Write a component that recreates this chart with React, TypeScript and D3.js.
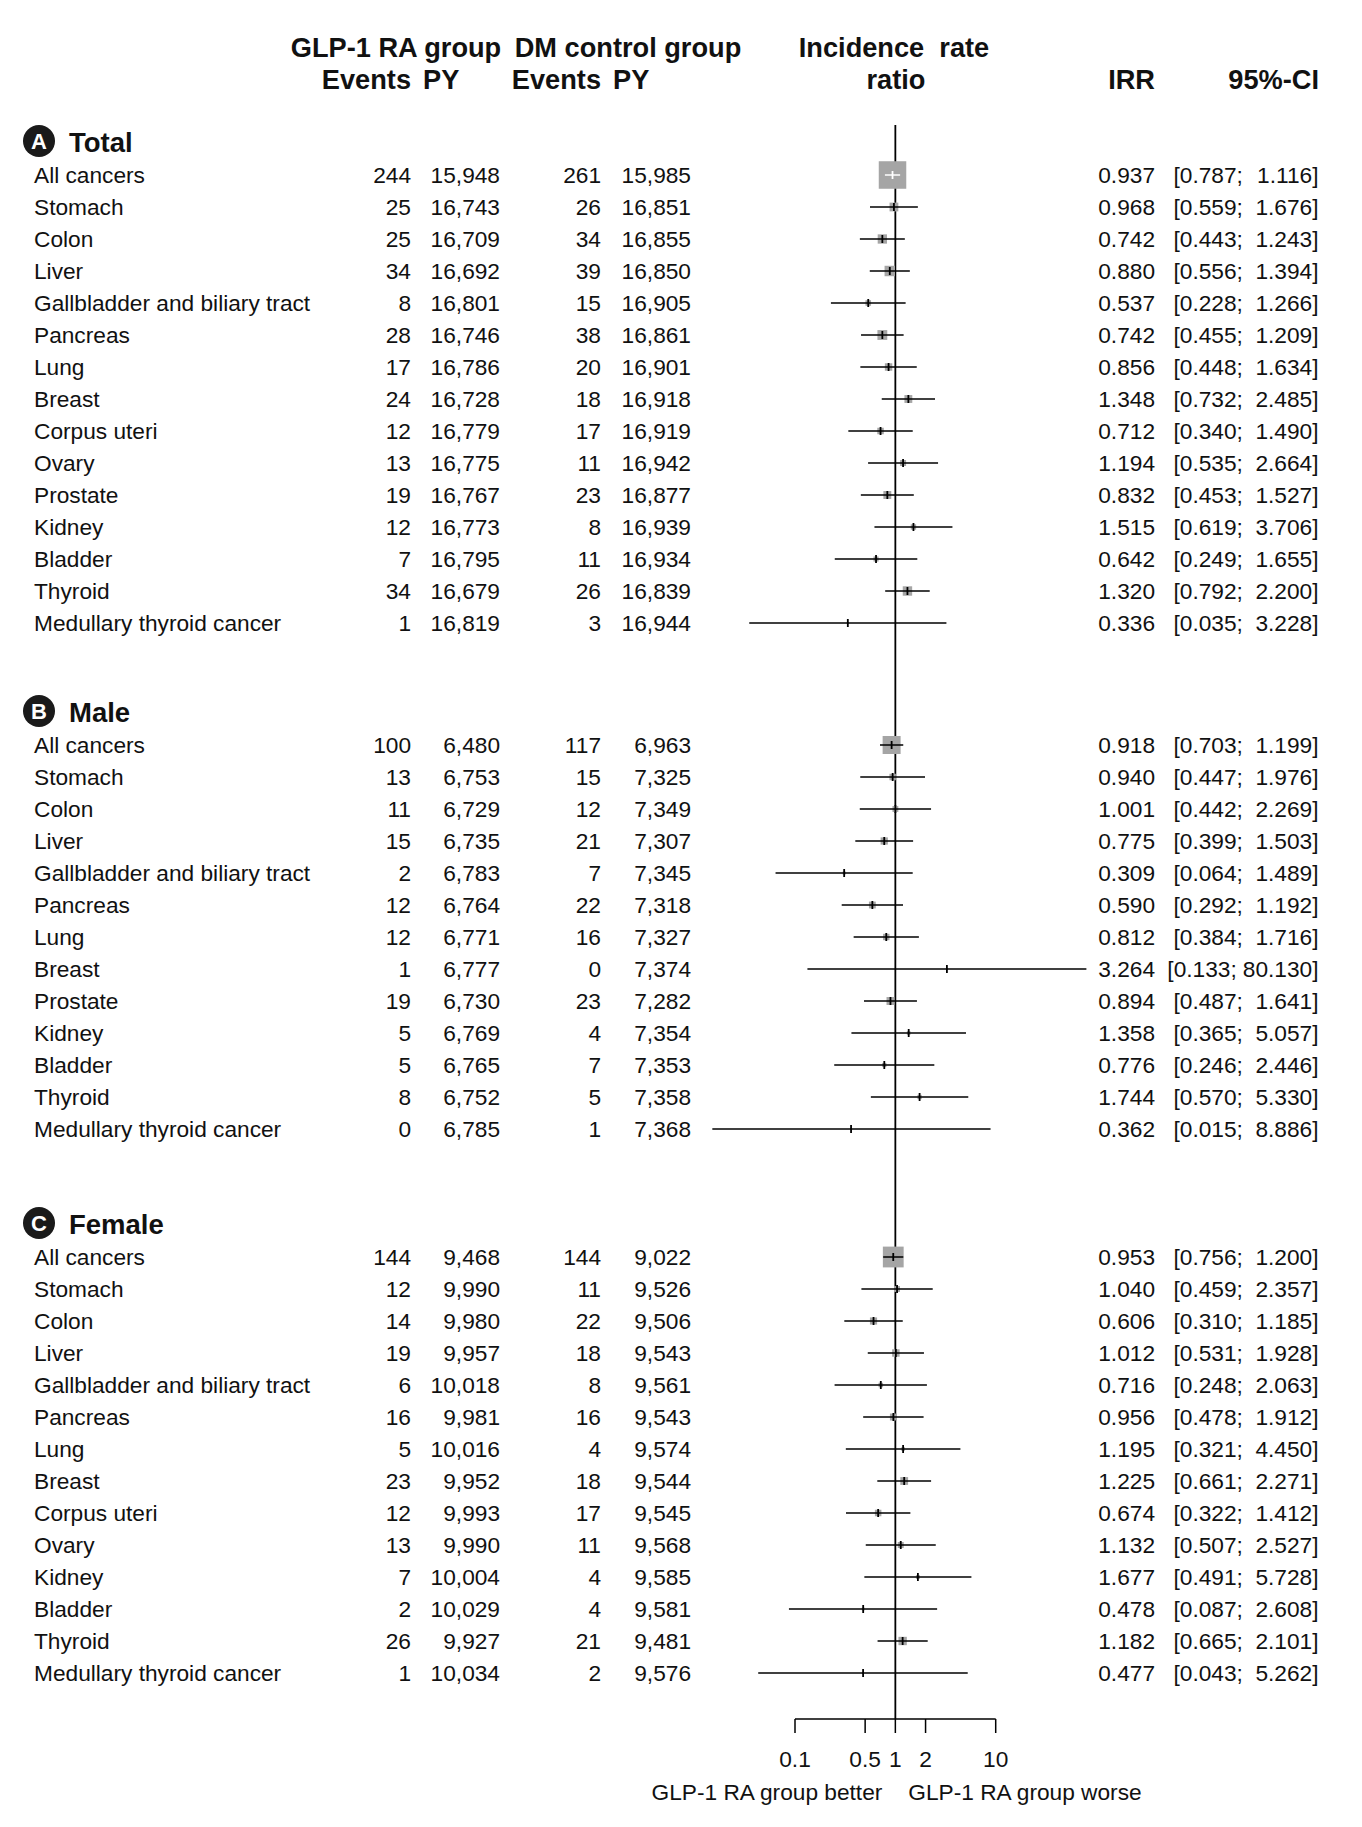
import React from "react";
import * as d3 from "d3";

// ---------- DATA ----------
const sectionNames = ["Total", "Male", "Female"];
const sectionLetters = ["A", "B", "C"];

const totalSites = ["All cancers", "Stomach", "Colon", "Liver", "Gallbladder and biliary tract", "Pancreas", "Lung", "Breast", "Corpus uteri", "Ovary", "Prostate", "Kidney", "Bladder", "Thyroid", "Medullary thyroid cancer"];
const totalGlpEvents = [244, 25, 25, 34, 8, 28, 17, 24, 12, 13, 19, 12, 7, 34, 1];
const totalGlpPY = [15948, 16743, 16709, 16692, 16801, 16746, 16786, 16728, 16779, 16775, 16767, 16773, 16795, 16679, 16819];
const totalDmEvents = [261, 26, 34, 39, 15, 38, 20, 18, 17, 11, 23, 8, 11, 26, 3];
const totalDmPY = [15985, 16851, 16855, 16850, 16905, 16861, 16901, 16918, 16919, 16942, 16877, 16939, 16934, 16839, 16944];
const totalIRR = [0.937, 0.968, 0.742, 0.88, 0.537, 0.742, 0.856, 1.348, 0.712, 1.194, 0.832, 1.515, 0.642, 1.32, 0.336];
const totalLower = [0.787, 0.559, 0.443, 0.556, 0.228, 0.455, 0.448, 0.732, 0.34, 0.535, 0.453, 0.619, 0.249, 0.792, 0.035];
const totalUpper = [1.116, 1.676, 1.243, 1.394, 1.266, 1.209, 1.634, 2.485, 1.49, 2.664, 1.527, 3.706, 1.655, 2.2, 3.228];

const maleSites = ["All cancers", "Stomach", "Colon", "Liver", "Gallbladder and biliary tract", "Pancreas", "Lung", "Breast", "Prostate", "Kidney", "Bladder", "Thyroid", "Medullary thyroid cancer"];
const maleGlpEvents = [100, 13, 11, 15, 2, 12, 12, 1, 19, 5, 5, 8, 0];
const maleGlpPY = [6480, 6753, 6729, 6735, 6783, 6764, 6771, 6777, 6730, 6769, 6765, 6752, 6785];
const maleDmEvents = [117, 15, 12, 21, 7, 22, 16, 0, 23, 4, 7, 5, 1];
const maleDmPY = [6963, 7325, 7349, 7307, 7345, 7318, 7327, 7374, 7282, 7354, 7353, 7358, 7368];
const maleIRR = [0.918, 0.94, 1.001, 0.775, 0.309, 0.59, 0.812, 3.264, 0.894, 1.358, 0.776, 1.744, 0.362];
const maleLower = [0.703, 0.447, 0.442, 0.399, 0.064, 0.292, 0.384, 0.133, 0.487, 0.365, 0.246, 0.57, 0.015];
const maleUpper = [1.199, 1.976, 2.269, 1.503, 1.489, 1.192, 1.716, 80.13, 1.641, 5.057, 2.446, 5.33, 8.886];

const femaleSites = ["All cancers", "Stomach", "Colon", "Liver", "Gallbladder and biliary tract", "Pancreas", "Lung", "Breast", "Corpus uteri", "Ovary", "Kidney", "Bladder", "Thyroid", "Medullary thyroid cancer"];
const femaleGlpEvents = [144, 12, 14, 19, 6, 16, 5, 23, 12, 13, 7, 2, 26, 1];
const femaleGlpPY = [9468, 9990, 9980, 9957, 10018, 9981, 10016, 9952, 9993, 9990, 10004, 10029, 9927, 10034];
const femaleDmEvents = [144, 11, 22, 18, 8, 16, 4, 18, 17, 11, 4, 4, 21, 2];
const femaleDmPY = [9022, 9526, 9506, 9543, 9561, 9543, 9574, 9544, 9545, 9568, 9585, 9581, 9481, 9576];
const femaleIRR = [0.953, 1.04, 0.606, 1.012, 0.716, 0.956, 1.195, 1.225, 0.674, 1.132, 1.677, 0.478, 1.182, 0.477];
const femaleLower = [0.756, 0.459, 0.31, 0.531, 0.248, 0.478, 0.321, 0.661, 0.322, 0.507, 0.491, 0.087, 0.665, 0.043];
const femaleUpper = [1.2, 2.357, 1.185, 1.928, 2.063, 1.912, 4.45, 2.271, 1.412, 2.527, 5.728, 2.608, 2.101, 5.262];

const axisTicks = [0.1, 0.5, 1, 2, 10];
const axisTickLabels = ["0.1", "0.5", "1", "2", "10"];
const headerGroups = ["GLP-1 RA group", "DM control group"];
const headerSub = ["Events", "PY"];
const plotHeader = ["Incidence  rate", "ratio"];
const irrHeader = "IRR";
const ciHeader = "95%-CI";
const favourLabels = ["GLP-1 RA group better", "GLP-1 RA group worse"];

// ---------- LAYOUT ----------
const W = 1362;
const H = 1827;
const FONT = "'Liberation Sans', Arial, Helvetica, sans-serif";
const FS = 22.7;
const HFS = 27.2;
const ROW = 32;
const SECTION_TOP = [175, 745, 1257];
const COL = { label: 34, glpEv: 411, glpPY: 500, dmEv: 601, dmPY: 691, irr: 1155, ciL: 1173.5, ciR: 1318.5 };
const AXIS_Y = 1719;
const LINE_TOP = 125;
const BOX_K = 2.45;
const GRAY = "#a5a5a5";

const sections = [
  { sites: totalSites, ge: totalGlpEvents, gp: totalGlpPY, de: totalDmEvents, dp: totalDmPY, irr: totalIRR, lo: totalLower, up: totalUpper },
  { sites: maleSites, ge: maleGlpEvents, gp: maleGlpPY, de: maleDmEvents, dp: maleDmPY, irr: maleIRR, lo: maleLower, up: maleUpper },
  { sites: femaleSites, ge: femaleGlpEvents, gp: femaleGlpPY, de: femaleDmEvents, dp: femaleDmPY, irr: femaleIRR, lo: femaleLower, up: femaleUpper },
];

const x = d3.scaleLog().domain([0.1, 10]).range([795, 995.7]);
const fmtPY = d3.format(",");
const fmt3 = d3.format(".3f");

// approximate Arial advance widths (em) for digits/punctuation
function textW(s: string, fs: number) {
  let w = 0;
  for (const c of s) w += /[0-9]/.test(c) ? 0.556 : 0.278;
  return w * fs;
}

function weight(a: number, b: number) {
  const aa = a === 0 || b === 0 ? a + 0.5 : a;
  const bb = a === 0 || b === 0 ? b + 0.5 : b;
  return 1 / (1 / aa + 1 / bb);
}

export default function App() {
  const x1 = x(1);
  return (
    <svg width={W} height={H} viewBox={`0 0 ${W} ${H}`} style={{ position: "absolute", left: 0, top: 0, background: "#fff" }} fontFamily={FONT}>
      <rect x={0} y={0} width={W} height={H} fill="#fff" />
      {/* Header */}
      <g fontWeight="bold" fontSize={HFS} fill="#111">
        <text x={396} y={57} textAnchor="middle">{headerGroups[0]}</text>
        <text x={628} y={57} textAnchor="middle">{headerGroups[1]}</text>
        <text x={411} y={89} textAnchor="end">{headerSub[0]}</text>
        <text x={423} y={89}>{headerSub[1]}</text>
        <text x={601} y={89} textAnchor="end">{headerSub[0]}</text>
        <text x={613} y={89}>{headerSub[1]}</text>
        <text x={894} y={57} textAnchor="middle" style={{ whiteSpace: "pre" }}>{plotHeader[0]}</text>
        <text x={896} y={89} textAnchor="middle">{plotHeader[1]}</text>
        <text x={1155} y={89} textAnchor="end">{irrHeader}</text>
        <text x={1319} y={89} textAnchor="end">{ciHeader}</text>
      </g>

      {/* reference line at 1 */}
      <line x1={x1} x2={x1} y1={LINE_TOP} y2={AXIS_Y} stroke="#000" strokeWidth={1.8} />

      {sections.map((s, si) => {
        const top = SECTION_TOP[si];
        const ws = s.sites.map((_, i) => weight(s.ge[i], s.de[i]));
        return (
          <g key={si}>
            <circle cx={39} cy={top - 34} r={16} fill="#1a1a1a" />
            <text x={39} y={top - 26} textAnchor="middle" fill="#fff" fontWeight="bold" fontSize={22}>{sectionLetters[si]}</text>
            <text x={69} y={top - 23} fontWeight="bold" fontSize={27.5} fill="#111">{sectionNames[si]}</text>
            {s.sites.map((site, i) => {
              const cy = top + i * ROW;
              const by = cy + 8;
              const cx = x(s.irr[i]);
              const xl = x(s.lo[i]);
              const xu = x(s.up[i]);
              const side = BOX_K * Math.sqrt(ws[i]);
              const inside = xl > cx - side / 2 + 1.5 && xu < cx + side / 2 - 1.5;
              const inner = inside ? "#fff" : "#000";
              const loStr = `[${fmt3(s.lo[i])};`;
              const upStr = `${fmt3(s.up[i])}]`;
              const loX = Math.min(COL.ciL, COL.ciR - textW(upStr, FS) - textW(loStr, FS) - 6);
              return (
                <g key={i} fontSize={FS} fill="#111">
                  <text x={COL.label} y={by}>{site}</text>
                  <text x={COL.glpEv} y={by} textAnchor="end">{s.ge[i]}</text>
                  <text x={COL.glpPY} y={by} textAnchor="end">{fmtPY(s.gp[i])}</text>
                  <text x={COL.dmEv} y={by} textAnchor="end">{s.de[i]}</text>
                  <text x={COL.dmPY} y={by} textAnchor="end">{fmtPY(s.dp[i])}</text>
                  <text x={COL.irr} y={by} textAnchor="end">{fmt3(s.irr[i])}</text>
                  <text x={loX} y={by}>{loStr}</text>
                  <text x={COL.ciR} y={by} textAnchor="end">{upStr}</text>
                  <rect x={cx - side / 2} y={cy - side / 2} width={side} height={side} fill={GRAY} />
                  <line x1={xl} x2={xu} y1={cy} y2={cy} stroke={inner} strokeWidth={1.5} />
                  <line x1={cx} x2={cx} y1={cy - 4} y2={cy + 4} stroke={inner} strokeWidth={1.8} />
                </g>
              );
            })}
          </g>
        );
      })}

      {/* Axis */}
      <g stroke="#000" strokeWidth={1.5} fill="none">
        <line x1={x(0.1)} x2={x(10)} y1={AXIS_Y} y2={AXIS_Y} />
        {axisTicks.map((t, i) => (
          <line key={i} x1={x(t)} x2={x(t)} y1={AXIS_Y} y2={AXIS_Y + 14} />
        ))}
      </g>
      <g fontSize={FS} fill="#111" textAnchor="middle">
        {axisTicks.map((t, i) => (
          <text key={i} x={x(t)} y={1767}>{axisTickLabels[i]}</text>
        ))}
      </g>
      <text x={x1 - 13} y={1800} fontSize={FS} fill="#111" textAnchor="end">{favourLabels[0]}</text>
      <text x={x1 + 13} y={1800} fontSize={FS} fill="#111">{favourLabels[1]}</text>
    </svg>
  );
}
